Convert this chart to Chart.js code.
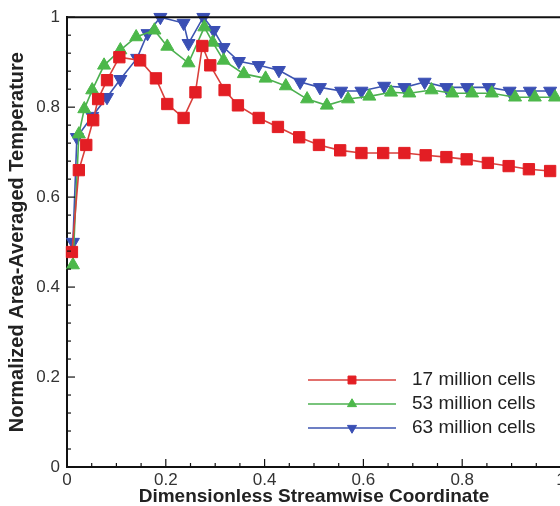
<!DOCTYPE html>
<html>
<head>
<meta charset="utf-8">
<script src="https://cdn.jsdelivr.net/npm/chart.js@4"></script>
<style>
  html, body { margin: 0; padding: 0; background: #fff; overflow: hidden; }
  #wrap { width: 570px; height: 506px; position: relative; }
</style>
</head>
<body>
<div id="wrap"><canvas id="chart"></canvas></div>
<script>
// values
const seriesNames = ['17 million cells', '53 million cells', '63 million cells'];

const x17 = [0.01, 0.024, 0.039, 0.053, 0.063, 0.081, 0.106, 0.148, 0.18, 0.203, 0.236, 0.26, 0.274, 0.29,
    0.319, 0.346, 0.388, 0.427, 0.47, 0.51, 0.553, 0.596, 0.64, 0.683, 0.726, 0.768, 0.809, 0.852, 0.894, 0.935, 0.978];
const t17 = [0.478, 0.66, 0.716, 0.771, 0.818, 0.86, 0.911, 0.904, 0.864, 0.807, 0.776, 0.833, 0.936, 0.893,
    0.838, 0.804, 0.776, 0.756, 0.733, 0.716, 0.704, 0.698, 0.698, 0.698, 0.693, 0.689, 0.684, 0.676, 0.669, 0.662, 0.658];

const x53 = [0.012, 0.024, 0.035, 0.051, 0.075, 0.108, 0.14, 0.177, 0.203, 0.246, 0.278, 0.295, 0.317, 0.358,
    0.402, 0.443, 0.486, 0.526, 0.569, 0.612, 0.656, 0.693, 0.738, 0.78, 0.82, 0.86, 0.907, 0.947, 0.988];
const t53 = [0.449, 0.74, 0.796, 0.838, 0.893, 0.927, 0.956, 0.971, 0.935, 0.898, 0.978, 0.944, 0.904, 0.874,
    0.864, 0.847, 0.818, 0.804, 0.818, 0.824, 0.833, 0.831, 0.838, 0.831, 0.831, 0.831, 0.822, 0.822, 0.822];

const x63 = [0.012, 0.02, 0.051, 0.081, 0.108, 0.142, 0.163, 0.189, 0.236, 0.246, 0.276, 0.297, 0.317, 0.348,
    0.388, 0.429, 0.472, 0.512, 0.555, 0.596, 0.642, 0.683, 0.724, 0.768, 0.81, 0.854, 0.896, 0.937, 0.978];
const t63 = [0.5, 0.733, 0.78, 0.822, 0.862, 0.909, 0.964, 1.0, 0.987, 0.942, 1.0, 0.971, 0.933, 0.902,
    0.893, 0.882, 0.856, 0.844, 0.836, 0.836, 0.847, 0.844, 0.856, 0.844, 0.844, 0.844, 0.836, 0.836, 0.836];

const xTicks = [0, 0.2, 0.4, 0.6, 0.8, 1];
const yTicks = [0, 0.2, 0.4, 0.6, 0.8, 1];

const FONT = "'Liberation Sans', Arial, sans-serif";

function pts(xs, ys) {
    return xs.map((x, i) => ({ x, y: ys[i] }));
}

function series(label, xs, ys, line, fill, style, radius, rotation) {
    return {
        label,
        data: pts(xs, ys),
        borderColor: line,
        borderWidth: 1.6,
        pointStyle: style,
        pointRadius: radius,
        pointRotation: rotation,
        pointBackgroundColor: fill,
        pointBorderColor: fill,
        pointBorderWidth: 1,
        tension: 0,
        clip: false
    };
}

// inward ticks, top/right frame and the legend in the lower right
const framePlugin = {
    id: 'frame',
    afterDatasetsDraw(chart) {
        const { ctx, chartArea: a, scales } = chart;
        ctx.save();
        ctx.strokeStyle = '#111';
        ctx.lineWidth = 1.2;
        // y ticks: major 0.2, minor 0.04
        for (let i = 0; i <= 25; i++) {
            const y = scales.y.getPixelForValue(i * 0.04);
            const len = (i % 5 === 0) ? 8 : 4;
            ctx.beginPath(); ctx.moveTo(a.left, y); ctx.lineTo(a.left + len, y); ctx.stroke();
        }
        // x ticks: major 0.2, minor 0.05
        for (let i = 0; i <= 20; i++) {
            const x = scales.x.getPixelForValue(i * 0.05);
            const len = (i % 4 === 0) ? 8 : 4;
            ctx.beginPath(); ctx.moveTo(x, a.bottom); ctx.lineTo(x, a.bottom - len); ctx.stroke();
        }
        // top and right frame
        ctx.lineWidth = 2;
        ctx.strokeStyle = '#111';
        ctx.beginPath(); ctx.moveTo(a.left, a.top); ctx.lineTo(a.right, a.top); ctx.stroke();
        ctx.lineWidth = 1;
        ctx.strokeStyle = '#aaa';
        ctx.beginPath(); ctx.moveTo(a.right, a.top); ctx.lineTo(a.right, a.bottom); ctx.stroke();

        // legend
        const rows = [380, 404, 428];
        chart.data.datasets.forEach((ds, i) => {
            const y = rows[i];
            ctx.strokeStyle = ds.borderColor;
            ctx.lineWidth = 1.6;
            ctx.beginPath(); ctx.moveTo(308, y); ctx.lineTo(396, y); ctx.stroke();
            ctx.fillStyle = ds.pointBackgroundColor;
            ctx.strokeStyle = ds.pointBorderColor;
            ctx.lineWidth = 1;
            Chart.helpers.drawPoint(ctx, {
                pointStyle: ds.pointStyle, radius: ds.pointRadius * 0.7,
                rotation: ds.pointRotation, borderWidth: 1
            }, 352, y);
            ctx.fillStyle = '#222';
            ctx.font = '19px ' + FONT;
            ctx.textBaseline = 'middle';
            ctx.textAlign = 'left';
            ctx.fillText(ds.label, 412, y);
        });
        ctx.restore();
    }
};

new Chart(document.getElementById('chart'), {
    type: 'line',
    data: {
        datasets: [
            series(seriesNames[0], x17, t17, '#d9403c', '#e31e24', 'rect', 8, 0),
            series(seriesNames[1], x53, t53, '#4cb050', '#4cb84a', 'triangle', 7.5, 0),
            series(seriesNames[2], x63, t63, '#3d55b0', '#3a4fb4', 'triangle', 7.5, 180)
        ]
    },
    options: {
        responsive: true,
        maintainAspectRatio: false,
        animation: false,
        layout: { padding: { left: 0, right: 6, top: 17, bottom: 0 } },
        plugins: { legend: { display: false }, tooltip: { enabled: false } },
        scales: {
            x: {
                type: 'linear', min: 0, max: 1,
                afterBuildTicks: s => { s.ticks = xTicks.map(v => ({ value: v })); },
                afterFit: s => { s.height = 39; },
                grid: { display: true, drawOnChartArea: false, drawTicks: false },
                border: { display: true, color: '#111', width: 2 },
                ticks: {
                    padding: 3, color: '#333', maxRotation: 0,
                    font: { family: FONT, size: 17 },
                    callback: v => String(v)
                },
                title: {
                    display: true, text: 'Dimensionless Streamwise Coordinate', color: '#222',
                    font: { family: FONT, size: 19, weight: 'bold', lineHeight: 1 }, padding: { top: 0, bottom: 0 }
                }
            },
            y: {
                min: 0, max: 1,
                afterBuildTicks: s => { s.ticks = yTicks.map(v => ({ value: v })); },
                afterFit: s => { s.width = 67; },
                grid: { display: true, drawOnChartArea: false, drawTicks: false },
                border: { display: true, color: '#111', width: 2 },
                ticks: {
                    padding: 7, color: '#333',
                    font: { family: FONT, size: 17 },
                    callback: v => String(v)
                },
                title: {
                    display: true, text: 'Normalized Area-Averaged Temperature', color: '#222',
                    font: { family: FONT, size: 20, weight: 'bold', lineHeight: 1 }, padding: { top: 7, bottom: 0 }
                }
            }
        }
    },
    plugins: [framePlugin]
});
</script>
</body>
</html>
